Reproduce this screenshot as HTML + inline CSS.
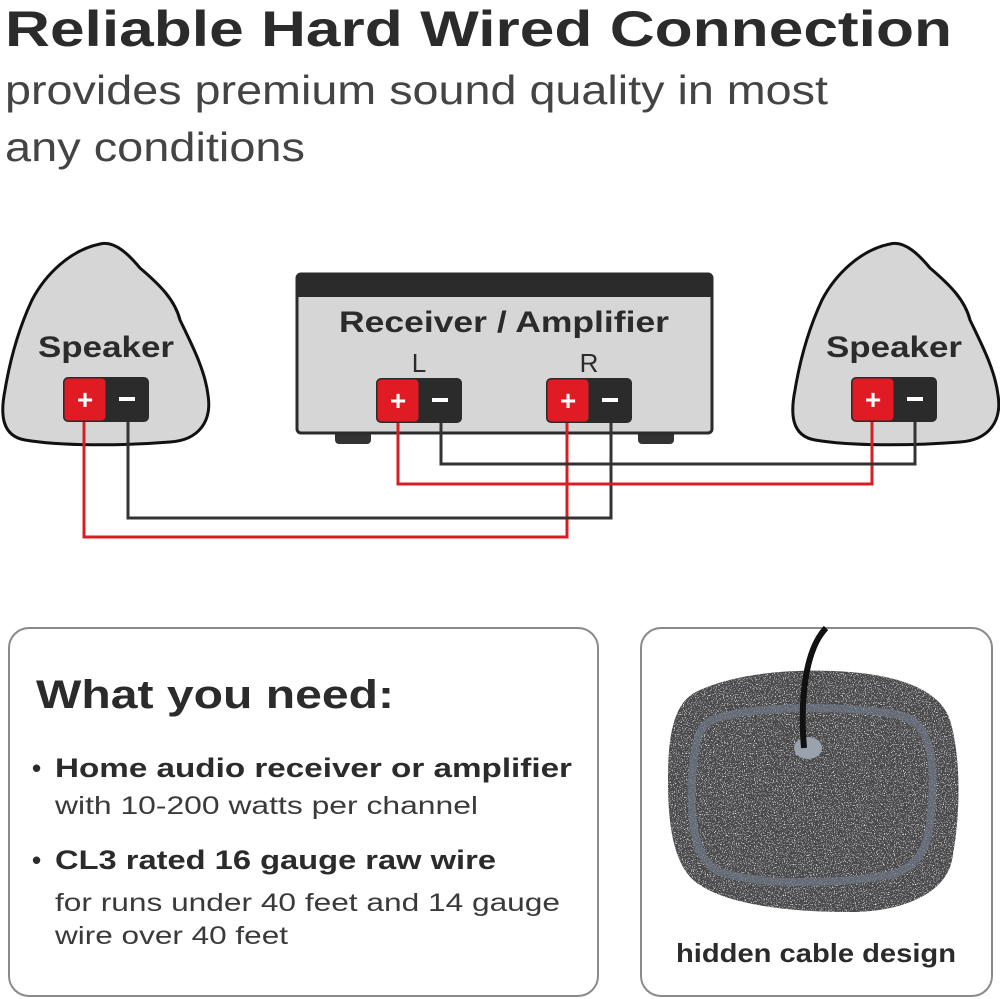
<!DOCTYPE html>
<html><head><meta charset="utf-8"><style>
html,body{margin:0;padding:0;background:#fff;width:1000px;height:999px;overflow:hidden}
svg{display:block;font-family:"Liberation Sans",sans-serif}
</style></head><body>
<svg width="1000" height="999" viewBox="0 0 1000 999" xmlns="http://www.w3.org/2000/svg">
<defs>
<filter id="speck" x="0" y="0" width="100%" height="100%">
<feTurbulence type="fractalNoise" baseFrequency="0.9" numOctaves="2" seed="3" result="n"/>
<feColorMatrix in="n" type="matrix" values="0 0 0 0 0.85  0 0 0 0 0.85  0 0 0 0 0.85  0 0 0 9 -5.4" result="s"/>
<feComposite in="s" in2="SourceGraphic" operator="in" result="sp"/>
<feMerge><feMergeNode in="SourceGraphic"/><feMergeNode in="sp"/></feMerge>
</filter>
</defs>
<g fill="#2b2b2b">
<text x="5" y="46" font-size="50" font-weight="bold" textLength="947" lengthAdjust="spacingAndGlyphs">Reliable Hard Wired Connection</text>
<text x="5" y="104" font-size="41" textLength="823" lengthAdjust="spacingAndGlyphs" fill="#444">provides premium sound quality in most</text>
<text x="5" y="161" font-size="41" textLength="300" lengthAdjust="spacingAndGlyphs" fill="#444">any conditions</text>
</g>
<!-- left speaker -->
<path d="M100,244 C115,240 130,256 140,268 C160,285 175,300 180,320 C192,345 205,370 208,395 C212,420 200,440 170,442 C120,446 60,446 25,440 C2,436 0,415 5,390 C10,360 18,330 32,300 C45,275 70,250 100,244 Z" fill="#d6d6d6" stroke="#111" stroke-width="3"/>
<text x="106" y="357" font-size="30" font-weight="bold" text-anchor="middle" fill="#2b2b2b" textLength="136" lengthAdjust="spacingAndGlyphs">Speaker</text>
<!-- right speaker -->
<path d="M890,244 C905,240 920,256 930,268 C950,285 965,300 970,320 C982,345 995,370 998,395 C1002,420 990,440 960,442 C910,446 850,446 815,440 C792,436 790,415 795,390 C800,360 808,330 822,300 C835,275 860,250 890,244 Z" fill="#d6d6d6" stroke="#111" stroke-width="3"/>
<text x="894" y="357" font-size="30" font-weight="bold" text-anchor="middle" fill="#2b2b2b" textLength="136" lengthAdjust="spacingAndGlyphs">Speaker</text>
<!-- receiver -->
<rect x="335" y="428" width="36" height="16" rx="4" fill="#333"/>
<rect x="638" y="428" width="36" height="16" rx="4" fill="#333"/>
<rect x="297" y="274" width="415" height="159" rx="4" fill="#d6d6d6" stroke="#2b2b2b" stroke-width="3"/>
<path d="M297,297 V278 Q297,274 301,274 H708 Q712,274 712,278 V297 Z" fill="#2b2b2b"/>
<text x="504" y="332" font-size="30" font-weight="bold" text-anchor="middle" fill="#2b2b2b" textLength="330" lengthAdjust="spacingAndGlyphs">Receiver / Amplifier</text>
<text x="419" y="372" font-size="26" text-anchor="middle" fill="#2b2b2b">L</text>
<text x="589" y="372" font-size="26" text-anchor="middle" fill="#2b2b2b">R</text>
<!-- wires -->
<g fill="none" stroke-width="3">
<path d="M84,420 V537 H567 V420" stroke="#d81e25"/>
<path d="M128,420 V518 H611 V420" stroke="#333"/>
<path d="M398,420 V484 H872 V420" stroke="#d81e25"/>
<path d="M441,420 V464 H915 V420" stroke="#333"/>
</g>
<!-- terminals -->
<g font-size="28" font-weight="bold" fill="#fff" text-anchor="middle">
<g transform="translate(63,377)"><rect x="0" y="0" width="86" height="45" rx="5" fill="#2b2b2b"/><rect x="1.5" y="1.5" width="41" height="42" rx="4" fill="#e01b24"/><text x="22" y="32">+</text><rect x="56" y="20" width="16" height="4" fill="#fff"/></g>
<g transform="translate(376,378)"><rect x="0" y="0" width="86" height="45" rx="5" fill="#2b2b2b"/><rect x="1.5" y="1.5" width="41" height="42" rx="4" fill="#e01b24"/><text x="22" y="32">+</text><rect x="56" y="20" width="16" height="4" fill="#fff"/></g>
<g transform="translate(546,378)"><rect x="0" y="0" width="86" height="45" rx="5" fill="#2b2b2b"/><rect x="1.5" y="1.5" width="41" height="42" rx="4" fill="#e01b24"/><text x="22" y="32">+</text><rect x="56" y="20" width="16" height="4" fill="#fff"/></g>
<g transform="translate(851,377)"><rect x="0" y="0" width="86" height="45" rx="5" fill="#2b2b2b"/><rect x="1.5" y="1.5" width="41" height="42" rx="4" fill="#e01b24"/><text x="22" y="32">+</text><rect x="56" y="20" width="16" height="4" fill="#fff"/></g>
</g>
<!-- left box -->
<rect x="9" y="628" width="589" height="368" rx="20" fill="#fff" stroke="#8a8a8a" stroke-width="2"/>
<g fill="#2b2b2b">
<text x="36" y="708" font-size="40" font-weight="bold" textLength="358" lengthAdjust="spacingAndGlyphs">What you need:</text>
<text x="32" y="777" font-size="26" font-weight="bold">•</text>
<text x="55" y="777" font-size="27" font-weight="bold" textLength="517" lengthAdjust="spacingAndGlyphs">Home audio receiver or amplifier</text>
<text x="55" y="814" font-size="25" textLength="423" lengthAdjust="spacingAndGlyphs" fill="#3a3a3a">with 10-200 watts per channel</text>
<text x="32" y="869" font-size="26" font-weight="bold">•</text>
<text x="55" y="869" font-size="27" font-weight="bold" textLength="441" lengthAdjust="spacingAndGlyphs">CL3 rated 16 gauge raw wire</text>
<text x="55" y="911" font-size="25" textLength="505" lengthAdjust="spacingAndGlyphs" fill="#3a3a3a">for runs under 40 feet and 14 gauge</text>
<text x="55" y="944" font-size="25" textLength="233" lengthAdjust="spacingAndGlyphs" fill="#3a3a3a">wire over 40 feet</text>
</g>
<!-- right box -->
<rect x="641" y="628" width="351" height="368" rx="20" fill="#fff" stroke="#8a8a8a" stroke-width="2"/>
<path d="M700,690 C740,672 800,668 850,672 C900,676 940,690 950,720 C962,760 960,820 952,860 C945,895 900,912 850,912 C790,912 730,905 700,885 C672,868 668,820 668,780 C668,730 675,700 700,690 Z" fill="#48484c" filter="url(#speck)"/>
<path d="M712,720 C750,705 850,705 900,715 C930,722 935,760 932,800 C930,840 925,865 890,875 C830,885 760,885 720,872 C695,862 690,820 692,780 C694,745 698,726 712,720 Z" fill="none" stroke="#6f7886" stroke-width="8" opacity="0.7"/>
<ellipse cx="808" cy="748" rx="14" ry="11" fill="#9aa3ad"/>
<path d="M804,748 C800,700 805,650 826,628" fill="none" stroke="#111" stroke-width="6"/>
<text x="816" y="962" font-size="26" font-weight="bold" text-anchor="middle" fill="#2b2b2b" textLength="280" lengthAdjust="spacingAndGlyphs">hidden cable design</text>
</svg>
</body></html>
